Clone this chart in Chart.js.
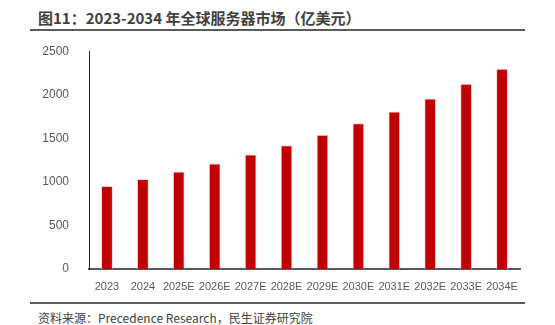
<!DOCTYPE html>
<html>
<head>
<meta charset="utf-8">
<script src="https://cdn.jsdelivr.net/npm/chart.js@4"></script>
<style>
  body { margin: 0; width: 555px; height: 325px; background: #fff; position: relative; overflow: hidden; font-family: "Noto Sans CJK SC", "Noto Sans", sans-serif; }
  #title { position: absolute; left: 30px; top: 7px; width: 495px; height: 24px; border-bottom: 2px solid #5a5a5a; font-size: 15px; font-weight: bold; color: #404040; padding-left: 8px; box-sizing: border-box; line-height: 22px; }
  #source { position: absolute; left: 30px; top: 302px; width: 495px; border-top: 2px solid #5a5a5a; font-size: 12px; color: #404040; padding-left: 8px; padding-top: 4px; box-sizing: border-box; line-height: 19px; }
  #wrap { position: absolute; left: 0; top: 32px; width: 555px; height: 268px; }
</style>
</head>
<body>
<div id="title">图11：2023-2034 年全球服务器市场（亿美元）</div>
<div id="wrap"><canvas id="c"></canvas></div>
<div id="source">资料来源：Precedence Research，民生证券研究院</div>
<script>
const years = ["2023", "2024", "2025E", "2026E", "2027E", "2028E", "2029E", "2030E", "2031E", "2032E", "2033E", "2034E"];
const marketSize = [954, 1034, 1118, 1210, 1313, 1420, 1542, 1672, 1809, 1958, 2126, 2298];

const TICK_COLOR = "#595959";

new Chart(document.getElementById("c"), {
  type: "bar",
  data: {
    labels: years,
    datasets: [
      {
        data: marketSize,
        backgroundColor: "#C00000",
        borderColor: "rgba(255,190,190,0.7)",
        borderWidth: { left: 1, right: 1, top: 1, bottom: 0 },
        barPercentage: 0.33,
        categoryPercentage: 1
      }
    ]
  },
  options: {
    animation: false,
    responsive: true,
    maintainAspectRatio: false,
    layout: { padding: { top: 4, right: 35, left: 0, bottom: 0 } },
    scales: {
      x: {
        grid: { display: false },
        border: { display: true, color: "#595959", width: 2 },
        ticks: { color: TICK_COLOR, font: { family: "'Liberation Sans', 'Noto Sans'", size: 11 }, padding: 3, maxRotation: 0, autoSkip: false },
        afterFit: (s) => { s.height = 31; }
      },
      y: {
        min: 0,
        max: 2500,
        grid: { display: false },
        border: { display: true, color: "#222", width: 1 },
        ticks: { stepSize: 500, color: TICK_COLOR, font: { family: "'Liberation Sans', 'Noto Sans'", size: 12 }, padding: 12, callback: (v) => String(v) },
        afterFit: (s) => { s.width = 89; }
      }
    },
    plugins: {
      legend: { display: false },
      tooltip: { enabled: false }
    }
  }
});
</script>
</body>
</html>
